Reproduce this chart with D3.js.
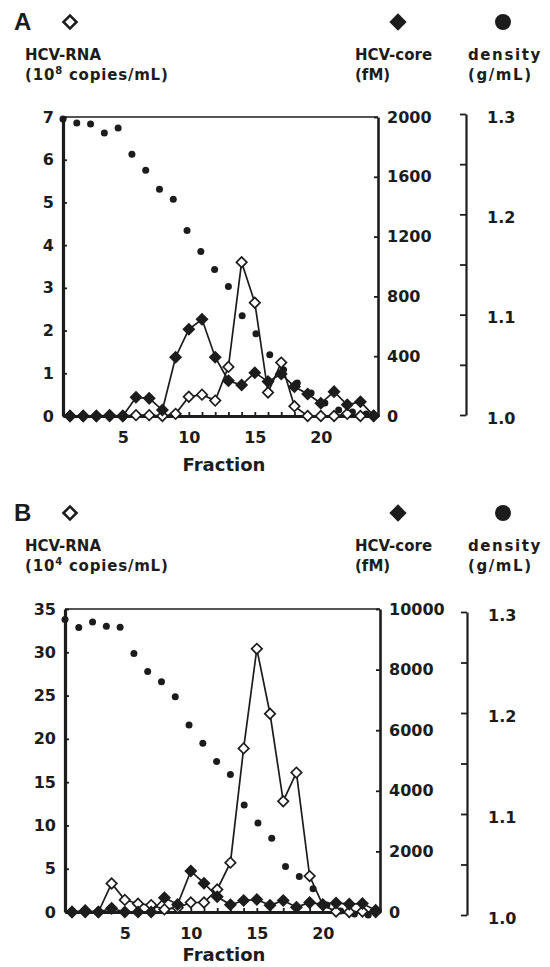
<!DOCTYPE html>
<html>
<head>
<meta charset="utf-8">
<script src="https://cdnjs.cloudflare.com/ajax/libs/d3/7.8.5/d3.min.js"></script>
<style>
  body { margin: 0; background: #fff; }
  text { font-family: "DejaVu Sans", sans-serif; font-weight: bold; fill: #1c1c1c; }
</style>
</head>
<body>
<div id="chart"></div>
<script>
// fractions of the density gradient
const fractions = [1, 2, 3, 4, 5, 6, 7, 8, 9, 10, 11, 12, 13, 14, 15, 16, 17, 18, 19, 20, 21, 22, 23, 24];
const densFractions = [1, 2, 3, 4, 5, 6, 7, 8, 9, 10, 11, 12, 13, 14, 15, 16, 17, 18, 19, 20, 21, 22, 23];

// panel A
const rnaA = [0, 0, 0, 0, 0, 0.02, 0.02, 0, 0.05, 0.45, 0.5, 0.36, 1.15, 3.6, 2.65, 0.55, 1.25, 0.23, 0, 0, 0, 0.05, 0, 0];
const coreA = [0, 0, 0, 5, 0, 125, 118, 40, 393, 580, 647, 393, 236, 207, 290, 230, 281, 196, 147, 85, 163, 75, 96, 2];
const densA = [1.295, 1.291, 1.290, 1.281, 1.286, 1.260, 1.244, 1.225, 1.215, 1.184, 1.163, 1.145, 1.128,
               1.099, 1.081, 1.060, 1.045, 1.032, 1.022, 1.012, 1.005, 1.003, 1.001];

// panel B
const rnaB = [0, 0, 0, 3.3, 1.4, 0.95, 0.8, 0.3, 0.5, 1.1, 1.1, 2.6, 5.7, 18.9, 30.4, 22.9, 12.8, 16.1, 4.15, 0.8, 0.05, 0, 0.05, 0];
const coreB = [0, 50, 0, 120, 0, 0, 0, 470, 250, 1350, 950, 500, 240, 380, 410, 220, 380, 160, 310, 250, 300, 260, 280, 60];
const densB = [1.2925, 1.2846, 1.290, 1.286, 1.285, 1.259, 1.241, 1.231, 1.216, 1.188, 1.170, 1.152, 1.139,
               1.109, 1.091, 1.076, 1.048, 1.038, 1.026, 1.010, 1.004, 1.001, 1.0];

// tick labels
const xTicks = [5, 10, 15, 20];
const rnaTicksA = [0, 1, 2, 3, 4, 5, 6, 7];
const coreTicksA = [0, 400, 800, 1200, 1600, 2000];
const rnaTicksB = [0, 5, 10, 15, 20, 25, 30, 35];
const coreTicksB = [0, 2000, 4000, 6000, 8000, 10000];
const densTicks = [1.0, 1.1, 1.2, 1.3];
const densMinor = [1.05, 1.15, 1.25];

const width = 550;
const height = 967;
const ink = '#1c1c1c';

const svg = d3.select('#chart')
    .append('svg')
    .attr('width', width)
    .attr('height', height);

function drawPanel(cfg) {
    const g = svg.append('g');

    const x = d3.scaleLinear().domain([0.47, 24.33]).range([cfg.left, cfg.right]);
    const xd = d3.scaleLinear().domain([1, 24]).range([cfg.left, cfg.right + 2]);
    const yRna = d3.scaleLinear().domain([0, cfg.rnaMax]).range([cfg.bottom, cfg.top]);
    const yCore = d3.scaleLinear().domain([0, cfg.coreMax]).range([cfg.bottom, cfg.top]);
    const yDens = d3.scaleLinear().domain([1.0, 1.3]).range([cfg.densBottom, cfg.densTop]);

    // header: panel letter, symbols, axis titles
    const hy = cfg.headerY;
    g.append('text').attr('x', 14).attr('y', hy + 8)
        .style('font-size', '24px').style('font-family', '"Liberation Sans", Arial, sans-serif')
        .text(cfg.letter);
    g.append('path')
        .attr('d', d3.symbol(d3.symbolSquare, 85)())
        .attr('transform', `translate(70,${hy}) rotate(45)`)
        .attr('fill', 'white').attr('stroke', ink).attr('stroke-width', 2.6);
    g.append('path')
        .attr('d', d3.symbol(d3.symbolSquare, 150)())
        .attr('transform', `translate(398,${hy}) rotate(45)`)
        .attr('fill', ink);
    g.append('circle').attr('cx', 503).attr('cy', hy).attr('r', 8).attr('fill', ink);

    g.append('text').attr('x', 25).attr('y', hy + 38).style('font-size', '15px').text('HCV-RNA');
    const t2 = g.append('text').attr('x', 25).attr('y', hy + 58)
        .style('font-size', '15px').style('letter-spacing', '0.8px');
    t2.append('tspan').text('(10');
    t2.append('tspan').attr('dy', -6).style('font-size', '10px').text(cfg.exp);
    t2.append('tspan').attr('dy', 6).text(' copies/mL)');
    g.append('text').attr('x', 355).attr('y', hy + 38).style('font-size', '15px').text('HCV-core');
    g.append('text').attr('x', 355).attr('y', hy + 58).style('font-size', '15px').text('(fM)');
    g.append('text').attr('x', 468).attr('y', hy + 38)
        .style('font-size', '15px').style('letter-spacing', '1.6px').text('density');
    g.append('text').attr('x', 468).attr('y', hy + 58)
        .style('font-size', '15px').style('letter-spacing', '1.6px').text('(g/mL)');

    // frame top line
    g.append('line')
        .attr('x1', cfg.left).attr('x2', cfg.right)
        .attr('y1', yRna(cfg.rnaMax)).attr('y2', yRna(cfg.rnaMax))
        .attr('stroke', ink).attr('stroke-width', 1.5);

    // left axis
    const left = g.append('g')
        .attr('transform', `translate(${cfg.left},0)`)
        .call(d3.axisLeft(yRna).tickValues(cfg.rnaTicks).tickSizeInner(-4).tickSizeOuter(0)
            .tickPadding(9).tickFormat(d3.format('d')));
    left.select('.domain').attr('stroke-width', 3.2);

    // right axis (core)
    const right = g.append('g')
        .attr('transform', `translate(${cfg.right},0)`)
        .call(d3.axisRight(yCore).tickValues(cfg.coreTicks).tickSizeInner(-4).tickSizeOuter(0)
            .tickPadding(9).tickFormat(d3.format('d')));
    right.select('.domain').attr('stroke-width', 2.6);

    // bottom axis
    const bottom = g.append('g')
        .attr('transform', `translate(0,${cfg.bottom})`)
        .call(d3.axisBottom(x).tickValues(fractions).tickSizeInner(-4).tickSizeOuter(0).tickFormat(''));
    bottom.select('.domain').attr('stroke-width', 3.2);
    g.append('g')
        .attr('transform', `translate(0,${cfg.bottom})`)
        .call(d3.axisBottom(x).tickValues(xTicks).tickSize(0).tickPadding(16))
        .call(a => a.select('.domain').remove());

    // density axis
    const dens = g.append('g')
        .attr('transform', `translate(${cfg.densX},0)`)
        .call(d3.axisRight(yDens).tickValues(densTicks).tickSizeInner(-6).tickSizeOuter(0).tickPadding(21)
            .tickFormat(d3.format('.1f')));
    dens.select('.domain').attr('stroke-width', 2.2);
    dens.selectAll('.tick text').attr('dy', '0.5em');
    g.append('g')
        .attr('transform', `translate(${cfg.densX},0)`)
        .call(d3.axisRight(yDens).tickValues(densMinor).tickSizeInner(-6).tickSizeOuter(0).tickFormat(''))
        .call(a => a.select('.domain').remove());

    g.selectAll('.tick line').attr('stroke', ink).attr('stroke-width', 1.8);
    g.selectAll('.domain').attr('stroke', ink);
    g.selectAll('.tick text').style('font-size', '16px').attr('fill', ink);

    g.append('text')
        .attr('x', 224).attr('y', cfg.fracY)
        .attr('text-anchor', 'middle')
        .style('font-size', '18px')
        .text('Fraction');

    // density dots
    g.selectAll('.dens')
        .data(densFractions.map((f, i) => ({ f, v: cfg.dens[i] })))
        .enter()
        .append('circle')
        .attr('class', 'dens')
        .attr('cx', d => xd(d.f))
        .attr('cy', d => yDens(d.v))
        .attr('r', 3.5)
        .attr('fill', ink);

    // HCV-RNA: open diamonds
    const rna = fractions.map((f, i) => ({ f, v: cfg.rna[i] }));
    g.append('path')
        .datum(rna)
        .attr('d', d3.line().x(d => x(d.f)).y(d => yRna(d.v)))
        .attr('fill', 'none').attr('stroke', ink).attr('stroke-width', 1.7);
    g.selectAll('.rna')
        .data(rna)
        .enter()
        .append('path')
        .attr('class', 'rna')
        .attr('d', d3.symbol(d3.symbolSquare, 55)())
        .attr('transform', d => `translate(${x(d.f)},${yRna(d.v)}) rotate(45)`)
        .attr('fill', 'white').attr('stroke', ink).attr('stroke-width', 1.7);

    // HCV-core: filled diamonds
    const core = fractions.map((f, i) => ({ f, v: cfg.core[i] }));
    g.append('path')
        .datum(core)
        .attr('d', d3.line().x(d => x(d.f)).y(d => yCore(d.v)))
        .attr('fill', 'none').attr('stroke', ink).attr('stroke-width', 1.7);
    g.selectAll('.core')
        .data(core)
        .enter()
        .append('path')
        .attr('class', 'core')
        .attr('d', d3.symbol(d3.symbolSquare, 85)())
        .attr('transform', d => `translate(${x(d.f)},${yCore(d.v)}) rotate(45)`)
        .attr('fill', ink);
}

drawPanel({
    letter: 'A', exp: '8', headerY: 22, fracY: 471,
    left: 63, right: 378, top: 117, bottom: 416,
    densX: 466, densTop: 114, densBottom: 415,
    rnaMax: 7, coreMax: 2000,
    rnaTicks: rnaTicksA, coreTicks: coreTicksA,
    rna: rnaA, core: coreA, dens: densA
});

drawPanel({
    letter: 'B', exp: '4', headerY: 513, fracY: 961,
    left: 65, right: 380, top: 609, bottom: 912,
    densX: 467, densTop: 612, densBottom: 915,
    rnaMax: 35, coreMax: 10000,
    rnaTicks: rnaTicksB, coreTicks: coreTicksB,
    rna: rnaB, core: coreB, dens: densB
});
</script>
</body>
</html>
